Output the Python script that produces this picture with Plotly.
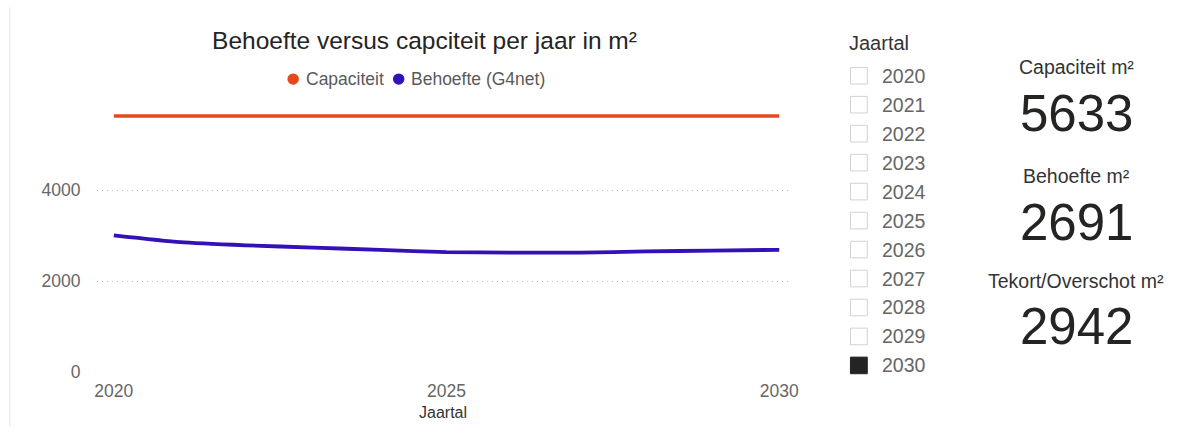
import plotly.graph_objects as go

# Yearly series
years = [2020, 2021, 2022, 2023, 2024, 2025, 2026, 2027, 2028, 2029, 2030]
capaciteit = [5633] * 11
behoefte = [3010, 2860, 2790, 2740, 2690, 2640, 2630, 2630, 2655, 2675, 2691]

x_ticks = [2020, 2025, 2030]
y_ticks = [0, 2000, 4000]
y_tick_labels = ["0", "2000", "4000"]

selected_year = 2030

card_titles = ["Capaciteit m²", "Behoefte m²", "Tekort/Overschot m²"]
card_values = [5633, 2691, 2942]

series_names = ["Capaciteit", "Behoefte (G4net)"]
COL_CAP = "#E6481C"
COL_BEH = "#3410B8"
FONT = "Liberation Sans, Arial, sans-serif"

W, H = 1203, 436


def px(x):
    return x / W


def py(y):
    return (H - y) / H


fig = go.Figure()

fig.add_trace(go.Scatter(x=years, y=capaciteit, mode="lines", name=series_names[0],
                         line=dict(color=COL_CAP, width=3.5), showlegend=False))
fig.add_trace(go.Scatter(x=years, y=behoefte, mode="lines", name=series_names[1],
                         line=dict(color=COL_BEH, width=3.8, shape="spline", smoothing=0.6),
                         showlegend=False))

annotations = []
shapes = []

# compact legend with round keys
legend_items = [(series_names[0], COL_CAP, 294.1, 305.1),
                (series_names[1], COL_BEH, 400.7, 410.8)]
ly = 80.9
for name, col, cx, tx in legend_items:
    shapes.append(dict(type="circle", xref="paper", yref="paper",
                       x0=px(cx - 5.8), x1=px(cx + 5.8), y0=py(ly + 5.8), y1=py(ly - 5.8),
                       fillcolor=col, line=dict(width=0)))
    annotations.append(dict(x=px(tx), y=py(ly), xref="paper", yref="paper", text=name,
                            showarrow=False, xanchor="left", yanchor="middle",
                            font=dict(family=FONT, size=17.5, color="#5a5a5a")))

# slicer panel
annotations.append(dict(x=px(853.4), y=py(44.1), xref="paper", yref="paper", text="Jaartal",
                        showarrow=False, xanchor="left", yanchor="middle",
                        font=dict(family=FONT, size=20, color="#333333")))
row0, row_step = 77.5, 29.65
for i, yr in enumerate(years):
    yc = row0 + i * row_step
    sel = yr == selected_year
    shapes.append(dict(type="rect", xref="paper", yref="paper",
                       x0=px(857), x1=px(874), y0=py(yc + 8.5), y1=py(yc - 8.5),
                       line=dict(color="#252423" if sel else "#d2d2d2", width=1),
                       fillcolor="#252423" if sel else "rgba(0,0,0,0)"))
    annotations.append(dict(x=px(886.5), y=py(yc), xref="paper", yref="paper", text=str(yr),
                            showarrow=False, xanchor="left", yanchor="middle",
                            font=dict(family=FONT, size=19.5, color="#666666")))

# cards
card_title_y = [68.6, 179.9, 287.2]
card_value_y = [116.6, 227.9, 334.1]
for t, v, ty, vy in zip(card_titles, card_values, card_title_y, card_value_y):
    annotations.append(dict(x=px(1085), y=py(ty), xref="paper", yref="paper", text=t,
                            showarrow=False, xanchor="center", yanchor="middle",
                            font=dict(family=FONT, size=19.5, color="#333333")))
    annotations.append(dict(x=px(1085), y=py(vy), xref="paper", yref="paper", text=str(v),
                            showarrow=False, xanchor="center", yanchor="middle",
                            font=dict(family=FONT, size=51, color="#252423")))

# left panel border
shapes.append(dict(type="line", xref="paper", yref="paper", x0=px(7.8), x1=px(7.8),
                   y0=py(7.5), y1=py(436), line=dict(color="#e6e6e6", width=1)))

fig.update_layout(
    width=W, height=H,
    margin=dict(l=0, r=0, t=0, b=0),
    paper_bgcolor="white", plot_bgcolor="white",
    font=dict(family=FONT),
    showlegend=False,
    title=dict(text="Behoefte versus capciteit per jaar in m²", x=px(424.5), y=py(40),
               xanchor="center", yanchor="middle",
               font=dict(family=FONT, size=24.5, color="#252423")),
    xaxis=dict(domain=[px(95.9), px(795.1)], range=[2019.746, 2030.15],
               tickvals=x_ticks, ticktext=[str(t) for t in x_ticks],
               showgrid=False, zeroline=False, showline=False,
               ticks="outside", ticklen=3, tickcolor="rgba(0,0,0,0)",
               tickfont=dict(family=FONT, size=17.5, color="#666666"),
               title=dict(text="Jaartal", standoff=6,
                          font=dict(family=FONT, size=16, color="#333333"))),
    yaxis=dict(domain=[py(381.1), py(101.5)], range=[0, 6000],
               tickvals=y_ticks, ticktext=y_tick_labels,
               showgrid=True, gridcolor="#bdbdbd", griddash="1px,4px", gridwidth=1,
               zeroline=False, showline=False,
               ticks="outside", ticklen=12, tickcolor="rgba(0,0,0,0)",
               tickfont=dict(family=FONT, size=17.5, color="#666666")),
    annotations=annotations,
    shapes=shapes,
)

fig.write_html("out.html")
